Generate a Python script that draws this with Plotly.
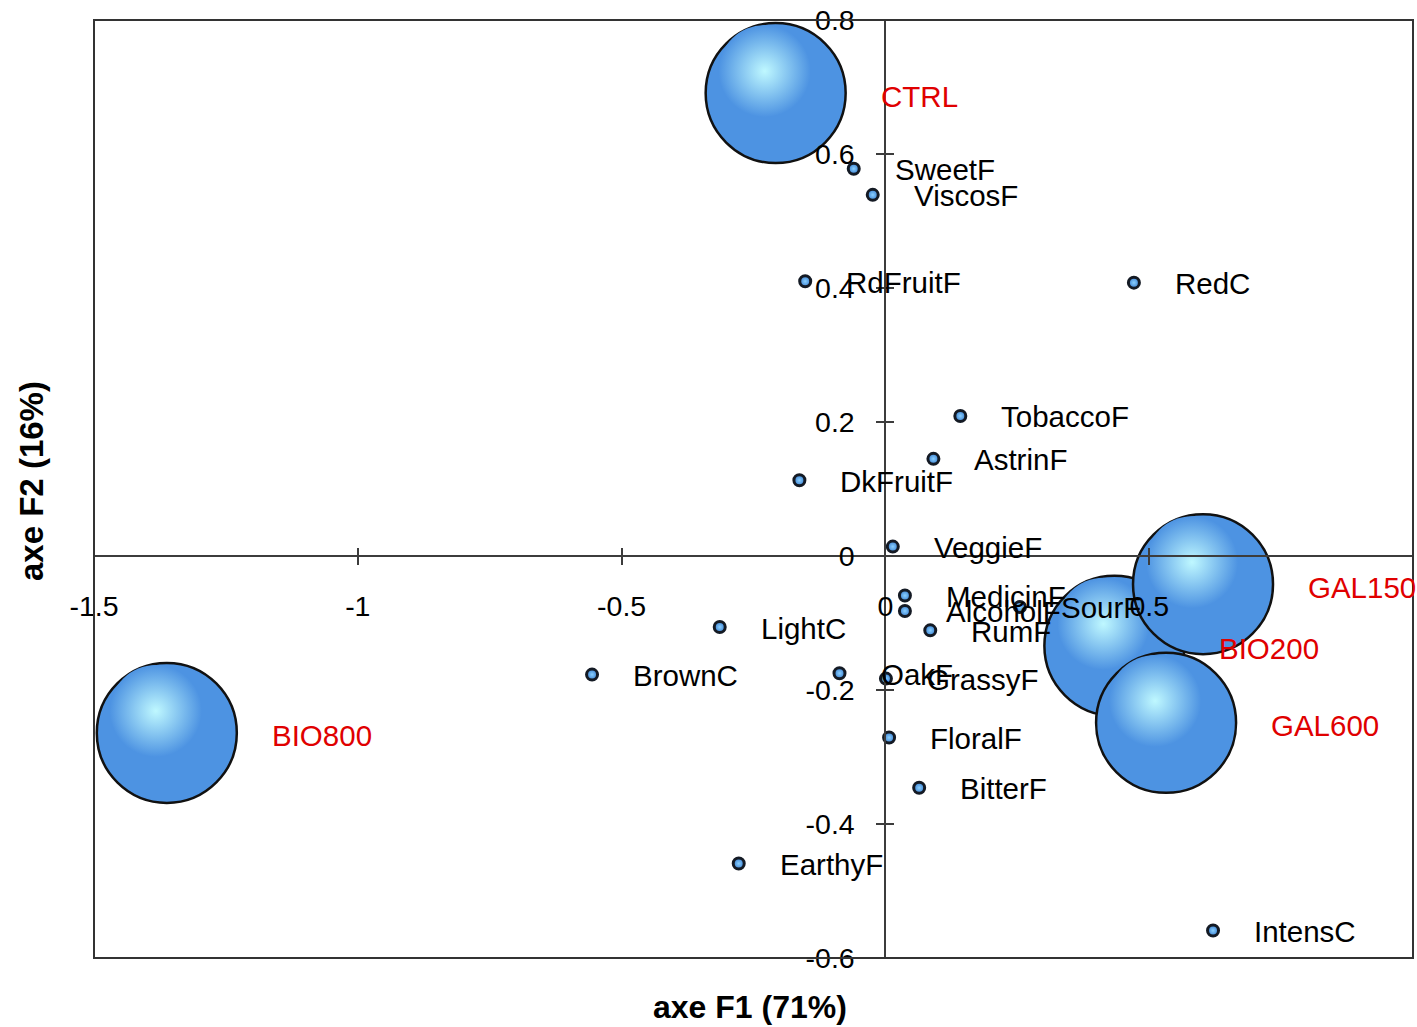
import plotly.graph_objects as go

# ---- data ----
bubble_names = ["CTRL", "BIO800", "BIO200", "GAL150", "GAL600"]
bubble_x = [-0.208, -1.362, 0.434, 0.602, 0.532]
bubble_y = [0.691, -0.264, -0.134, -0.042, -0.249]

var_names = ["SweetF", "ViscosF", "RdFruitF", "RedC", "TobaccoF", "AstrinF", "DkFruitF",
             "VeggieF", "MedicinF", "AlcoholF", "SourF", "RumF", "LightC", "BrownC",
             "OakF", "GrassyF", "FloralF", "BitterF", "EarthyF", "IntensC"]
var_x = [-0.060, -0.024, -0.152, 0.471, 0.142, 0.091, -0.163,
         0.014, 0.037, 0.037, 0.255, 0.085, -0.314, -0.556,
         -0.087, 0.001, 0.007, 0.064, -0.278, 0.621]
var_y = [0.578, 0.539, 0.410, 0.408, 0.209, 0.145, 0.113,
         0.014, -0.059, -0.082, -0.076, -0.111, -0.106, -0.177,
         -0.175, -0.183, -0.271, -0.346, -0.459, -0.559]

x_ticks = [-1.5, -1, -0.5, 0, 0.5, 1]
x_ticklabels = ["-1.5", "-1", "-0.5", "0", "0.5", "1"]
y_ticks = [0.8, 0.6, 0.4, 0.2, 0, -0.2, -0.4, -0.6]
y_ticklabels = ["0.8", "0.6", "0.4", "0.2", "0", "-0.2", "-0.4", "-0.6"]

x_range = [-1.5, 1.0]
y_range = [-0.6, 0.8]

# ---- layout constants ----
W, H = 1417, 1027
ML, MR, MT, MB = 94, 4, 18, 69
plot_w = W - ML - MR
plot_h = H - MT - MB
px_x = plot_w / (x_range[1] - x_range[0])
px_y = plot_h / (y_range[1] - y_range[0])

FONT = "Liberation Sans, Arial, sans-serif"
AXC = "#3c3c3c"
LBL = 29.5
BODY = "#4d93e2"

fig = go.Figure()

# bubbles (observations) with 3D look: body + soft highlight
# (plotly radial gradient: marker.color = rim, gradient.color = centre)
hl_dx = -11 / px_x
hl_dy = 22 / px_y
for bx, by in zip(bubble_x, bubble_y):
    fig.add_trace(go.Scatter(
        x=[bx], y=[by], mode="markers", hoverinfo="skip", showlegend=False,
        marker=dict(size=140, color=BODY,
                    line=dict(color="#111111", width=2.5))))
    fig.add_trace(go.Scatter(
        x=[bx + hl_dx], y=[by + hl_dy], mode="markers", hoverinfo="skip", showlegend=False,
        marker=dict(size=92, color=BODY,
                    gradient=dict(type="radial", color="#bff8ff"),
                    line=dict(width=0))))

# variables
fig.add_trace(go.Scatter(
    x=var_x, y=var_y, mode="markers", hoverinfo="skip", showlegend=False,
    marker=dict(size=11, color="#3a7fd0",
                gradient=dict(type="radial", color="#8ad0ff"),
                line=dict(color="#141a24", width=3))))

# dummy trace for overlay axes (crossing ticks)
fig.add_trace(go.Scatter(x=[None], y=[None], xaxis="x2", yaxis="y2",
                         showlegend=False, hoverinfo="skip"))

annotations = []
for n, x, y in zip(var_names, var_x, var_y):
    annotations.append(dict(x=x, y=y, text=n, showarrow=False, xanchor="left",
                            yanchor="middle", xshift=39, yshift=-1,
                            font=dict(family=FONT, size=LBL, color="black")))
for n, x, y in zip(bubble_names, bubble_x, bubble_y):
    annotations.append(dict(x=x, y=y, text=n, showarrow=False, xanchor="left",
                            yanchor="middle", xshift=103, yshift=-3,
                            font=dict(family=FONT, size=LBL, color="#e00000")))

annotations.append(dict(x=(750 - ML) / plot_w, y=-(1007 - (MT + plot_h)) / plot_h,
                        xref="paper", yref="paper", text="<b>axe F1 (71%)</b>",
                        showarrow=False, xanchor="center", yanchor="middle",
                        font=dict(family=FONT, size=32, color="black")))
annotations.append(dict(x=-(ML - 31) / plot_w, y=(MT + plot_h - 480) / plot_h,
                        xref="paper", yref="paper", text="<b>axe F2 (16%)</b>",
                        showarrow=False, xanchor="center", yanchor="middle", textangle=-90,
                        font=dict(family=FONT, size=33, color="black")))

x0_pos = (0 - x_range[0]) / (x_range[1] - x_range[0])
y0_pos = (0 - y_range[0]) / (y_range[1] - y_range[0])

common_tick = dict(showgrid=False, zeroline=False, ticklen=8, tickwidth=2, tickcolor=AXC)

fig.update_layout(
    width=W, height=H,
    margin=dict(l=ML, r=MR, t=MT, b=MB, pad=0),
    paper_bgcolor="white", plot_bgcolor="white",
    showlegend=False,
    xaxis=dict(range=x_range, anchor="free", position=y0_pos,
               tickvals=x_ticks, ticktext=x_ticklabels, ticks="outside",
               showline=True, linecolor=AXC, linewidth=2,
               ticklabelstandoff=17,
               tickfont=dict(family=FONT, size=28.5, color="black"), **common_tick),
    yaxis=dict(range=y_range, anchor="free", position=x0_pos,
               tickvals=y_ticks, ticktext=y_ticklabels, ticks="outside",
               showline=True, linecolor=AXC, linewidth=2,
               ticklabelstandoff=16,
               tickfont=dict(family=FONT, size=28.5, color="black"), **common_tick),
    xaxis2=dict(range=x_range, overlaying="x", anchor="free", position=y0_pos,
                tickvals=x_ticks, ticks="inside", showticklabels=False, showline=False,
                **common_tick),
    yaxis2=dict(range=y_range, overlaying="y", anchor="free", position=x0_pos,
                tickvals=y_ticks, ticks="inside", showticklabels=False, showline=False,
                **common_tick),
    annotations=annotations,
    shapes=[dict(type="rect", xref="paper", yref="paper", x0=0, y0=0, x1=1, y1=1,
                 line=dict(color="#333333", width=2), layer="above")],
)

fig.write_html("out.html", config={"displayModeBar": False},
               post_script="document.body.style.margin='0';document.body.style.overflow='hidden';")
